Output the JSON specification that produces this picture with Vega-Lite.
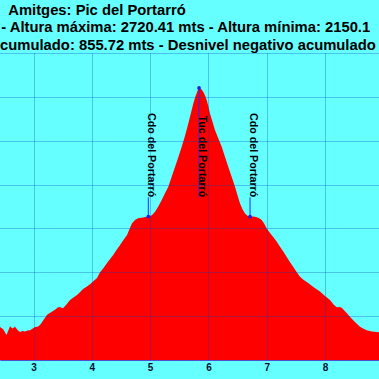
{
  "$schema": "https://vega.github.io/schema/vega-lite/v6.json",
  "width": 379,
  "height": 307,
  "autosize": "none",
  "padding": {"top": 53, "left": 0, "right": 0, "bottom": 19},
  "background": "#66ffff",
  "config": {"view": {"stroke": null, "fill": "#66ffff"}},
  "title": {
    "text": ["\u200b\u00a0\u00a0Amitges: Pic del Portarró", "\u200b\u200a- Altura máxima: 2720.41 mts - Altura mínima: 2150.1", "cumulado: 855.72 mts - Desnivel negativo acumulado"],
    "anchor": "start",
    "frame": "group",
    "font": "Liberation Sans",
    "fontSize": 14.8,
    "fontWeight": "bold",
    "color": "#000000",
    "lineHeight": 17.5,
    "offset": 0.5
  },
  "datasets": {
    "profile": [
      {"km": 2.425, "alt": 2175}, {"km": 2.48, "alt": 2170}, {"km": 2.537, "alt": 2157}, {"km": 2.597, "alt": 2177},
      {"km": 2.64, "alt": 2172}, {"km": 2.683, "alt": 2176}, {"km": 2.73, "alt": 2168}, {"km": 2.768, "alt": 2164},
      {"km": 2.81, "alt": 2166}, {"km": 2.854, "alt": 2165}, {"km": 2.9, "alt": 2167}, {"km": 2.94, "alt": 2168},
      {"km": 2.98, "alt": 2171}, {"km": 3.026, "alt": 2175}, {"km": 3.07, "alt": 2176}, {"km": 3.111, "alt": 2180},
      {"km": 3.18, "alt": 2193}, {"km": 3.232, "alt": 2203}, {"km": 3.28, "alt": 2207}, {"km": 3.334, "alt": 2212},
      {"km": 3.38, "alt": 2216}, {"km": 3.42, "alt": 2220}, {"km": 3.46, "alt": 2220}, {"km": 3.506, "alt": 2218},
      {"km": 3.575, "alt": 2228}, {"km": 3.626, "alt": 2237}, {"km": 3.69, "alt": 2243}, {"km": 3.746, "alt": 2248},
      {"km": 3.8, "alt": 2255}, {"km": 3.849, "alt": 2262}, {"km": 3.91, "alt": 2267}, {"km": 3.969, "alt": 2273},
      {"km": 4.03, "alt": 2280}, {"km": 4.089, "alt": 2287}, {"km": 4.141, "alt": 2300}, {"km": 4.2, "alt": 2310},
      {"km": 4.261, "alt": 2321}, {"km": 4.31, "alt": 2330}, {"km": 4.364, "alt": 2339}, {"km": 4.42, "alt": 2350},
      {"km": 4.484, "alt": 2362}, {"km": 4.545, "alt": 2374}, {"km": 4.604, "alt": 2385}, {"km": 4.65, "alt": 2400},
      {"km": 4.69, "alt": 2412}, {"km": 4.74, "alt": 2419}, {"km": 4.792, "alt": 2423}, {"km": 4.88, "alt": 2425},
      {"km": 4.969, "alt": 2427}, {"km": 5.03, "alt": 2430}, {"km": 5.084, "alt": 2438}, {"km": 5.14, "alt": 2450},
      {"km": 5.199, "alt": 2465}, {"km": 5.255, "alt": 2480}, {"km": 5.312, "alt": 2495}, {"km": 5.37, "alt": 2518},
      {"km": 5.427, "alt": 2540}, {"km": 5.485, "alt": 2563}, {"km": 5.542, "alt": 2586}, {"km": 5.6, "alt": 2612},
      {"km": 5.655, "alt": 2639}, {"km": 5.7, "alt": 2663}, {"km": 5.741, "alt": 2685}, {"km": 5.775, "alt": 2700},
      {"km": 5.799, "alt": 2708}, {"km": 5.82, "alt": 2716}, {"km": 5.839, "alt": 2720.41}, {"km": 5.875, "alt": 2718},
      {"km": 5.913, "alt": 2711}, {"km": 5.945, "alt": 2702}, {"km": 5.971, "alt": 2692}, {"km": 6.0, "alt": 2678},
      {"km": 6.027, "alt": 2662}, {"km": 6.07, "alt": 2643}, {"km": 6.113, "alt": 2624}, {"km": 6.17, "alt": 2605},
      {"km": 6.228, "alt": 2586}, {"km": 6.285, "alt": 2563}, {"km": 6.341, "alt": 2540}, {"km": 6.4, "alt": 2517},
      {"km": 6.456, "alt": 2495}, {"km": 6.5, "alt": 2475}, {"km": 6.542, "alt": 2457}, {"km": 6.585, "alt": 2444},
      {"km": 6.628, "alt": 2434}, {"km": 6.67, "alt": 2429}, {"km": 6.714, "alt": 2427}, {"km": 6.77, "alt": 2427},
      {"km": 6.817, "alt": 2426}, {"km": 6.87, "alt": 2423}, {"km": 6.914, "alt": 2419}, {"km": 6.96, "alt": 2410},
      {"km": 7.0, "alt": 2400}, {"km": 7.05, "alt": 2391}, {"km": 7.108, "alt": 2381}, {"km": 7.17, "alt": 2370},
      {"km": 7.228, "alt": 2358}, {"km": 7.29, "alt": 2346}, {"km": 7.343, "alt": 2335}, {"km": 7.4, "alt": 2323},
      {"km": 7.451, "alt": 2313}, {"km": 7.51, "alt": 2301}, {"km": 7.571, "alt": 2290}, {"km": 7.63, "alt": 2283},
      {"km": 7.686, "alt": 2278}, {"km": 7.74, "alt": 2273}, {"km": 7.794, "alt": 2267}, {"km": 7.85, "alt": 2262},
      {"km": 7.914, "alt": 2256}, {"km": 8.0, "alt": 2246}, {"km": 8.086, "alt": 2237}, {"km": 8.15, "alt": 2226},
      {"km": 8.201, "alt": 2220}, {"km": 8.25, "alt": 2221}, {"km": 8.287, "alt": 2219}, {"km": 8.33, "alt": 2213},
      {"km": 8.372, "alt": 2207}, {"km": 8.43, "alt": 2198}, {"km": 8.48, "alt": 2191}, {"km": 8.54, "alt": 2183},
      {"km": 8.6, "alt": 2176}, {"km": 8.66, "alt": 2171}, {"km": 8.715, "alt": 2168}, {"km": 8.8, "alt": 2165},
      {"km": 8.926, "alt": 2163}
    ],
    "waypoints": [
      {"km": 4.969, "alt": 2427, "name": "Cdo del Portarró"},
      {"km": 5.839, "alt": 2720.41, "name": "Tuc del Portarró"},
      {"km": 6.714, "alt": 2427, "name": "Cdo del Portarró"}
    ]
  },
  "layer": [
    {
      "data": {"name": "profile"},
      "mark": {"type": "area", "color": "#ff0000", "interpolate": "linear"},
      "encoding": {
        "x": {
          "field": "km", "type": "quantitative",
          "scale": {"domain": [2.425, 8.926], "nice": false, "zero": false},
          "axis": {
            "title": null, "values": [3, 4, 5, 6, 7, 8], "format": "d", "ticks": false,
            "labelFont": "Liberation Sans", "labelFontWeight": "bold", "labelFontSize": 10,
            "labelColor": "#001030", "labelPadding": 2,
            "domainColor": "#5050c8", "domainWidth": 1,
            "grid": true, "gridColor": "#0040c0", "gridDash": [1, 1], "gridOpacity": 0.6, "gridWidth": 1,
            "zindex": 1
          }
        },
        "y": {
          "field": "alt", "type": "quantitative",
          "scale": {"domain": [2100, 2800], "nice": false, "zero": false},
          "axis": {
            "title": null, "values": [2100, 2200, 2300, 2400, 2500, 2600, 2700, 2800],
            "labels": false, "ticks": false, "domain": false,
            "grid": true, "gridColor": "#0040c0", "gridDash": [1, 1], "gridOpacity": 0.6, "gridWidth": 1,
            "zindex": 1
          }
        },
        "y2": {"datum": 2100}
      }
    },
    {
      "data": {"name": "waypoints"},
      "mark": {"type": "rule", "color": "#2a2aff", "strokeWidth": 1},
      "encoding": {
        "x": {"field": "km", "type": "quantitative"},
        "y": {"field": "alt", "type": "quantitative"},
        "y2": {"datum": 2471}
      }
    },
    {
      "data": {"name": "waypoints"},
      "mark": {"type": "point", "filled": true, "color": "#2020e0", "size": 14, "opacity": 1},
      "encoding": {
        "x": {"field": "km", "type": "quantitative"},
        "y": {"field": "alt", "type": "quantitative"}
      }
    },
    {
      "data": {"name": "waypoints"},
      "mark": {"type": "text", "angle": 90, "align": "right", "baseline": "alphabetic", "font": "Liberation Sans", "fontWeight": "bold", "fontSize": 10.7, "color": "#000000"},
      "encoding": {
        "x": {"field": "km", "type": "quantitative"},
        "y": {"datum": 2471},
        "text": {"field": "name"}
      }
    }
  ]
}
